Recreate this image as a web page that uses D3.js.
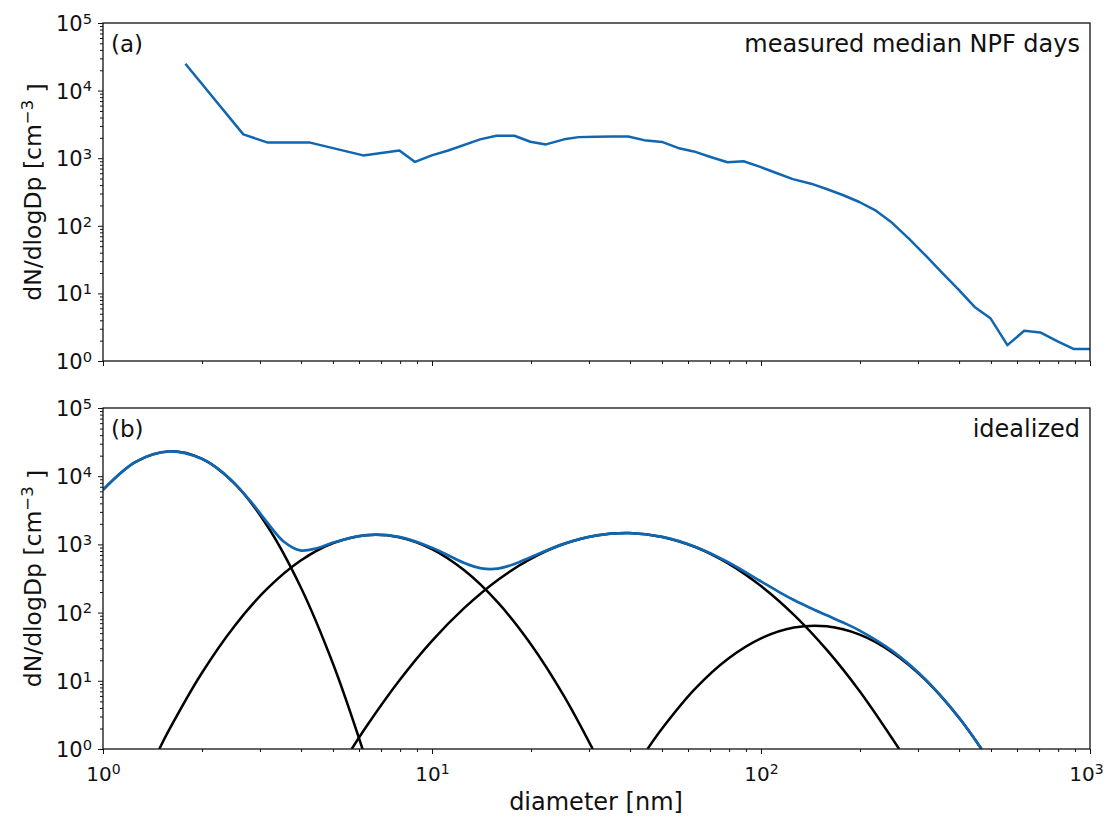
<!DOCTYPE html>
<html lang="en">
<head>
    <meta charset="UTF-8">
    <title>Particle size distribution</title>
    <script src="https://cdn.jsdelivr.net/npm/d3@7"></script>
    <style>
        body { margin: 0; background: #fff; }
        text { font-family: "DejaVu Sans", sans-serif; fill: #111; }
        .tick line { stroke: #111; stroke-width: 1; }
    </style>
</head>
<body>
    <svg width="1107" height="817"></svg>

    <script>
        // measured median NPF days (diameter in nm, dN/dlogDp in cm^-3)
        var measDiam = [1.78, 2.67, 3.17, 4.26, 6.18, 7.96, 8.88, 9.98, 11.2, 14.0, 15.7, 17.8, 19.9, 22.2,
            25.2, 27.9, 31.6, 35.3, 39.5, 44.1, 50.0, 55.9, 62.5, 69.9, 79.1, 88.5, 99, 110.8, 125, 142,
            159, 178, 199, 222, 248, 281, 319, 356, 398, 446, 498, 561, 631, 706, 800, 894, 1000];
        var measConc = [25000, 2250, 1700, 1700, 1100, 1300, 880, 1100, 1300, 1900, 2150, 2150, 1750, 1600,
            1900, 2050, 2080, 2100, 2100, 1850, 1740, 1420, 1260, 1050, 870, 900, 750, 610, 490, 420,
            347, 283, 225, 171, 115, 65, 35, 20, 11.5, 6.3, 4.3, 1.72, 2.8, 2.65, 1.93, 1.5, 1.5];

        // idealized modes
        var mode1Diam = [1, 1.259, 1.585, 1.995, 2.512, 3.162, 3.981, 5.012, 6.15];
        var mode1Conc = [6310, 16290, 23120, 18080, 7780, 1845, 241, 17.3, 1];

        var mode2Diam = [1.483, 1.585, 1.995, 2.512, 3.162, 3.981, 5.012, 6.310, 7.943, 10, 12.59, 15.85, 19.95, 25.12, 30.8];
        var mode2Conc = [1, 1.87, 12.9, 63.8, 226, 575, 1047, 1367, 1277, 855, 410, 141, 34.7, 6.12, 1];

        var mode3Diam = [5.70, 6.310, 7.943, 10, 12.59, 15.85, 19.95, 25.12, 31.62, 39.81, 50.12, 63.10, 79.43, 100, 125.9, 158.5, 199.5, 263];
        var mode3Conc = [1, 2.12, 10.0, 38.5, 119, 301, 613, 1012, 1354, 1466, 1287, 915, 527, 245, 92.8, 28.4, 7.03, 1];

        var mode4Diam = [45.2, 50.12, 63.10, 79.43, 100, 125.9, 158.5, 199.5, 251.2, 316.2, 398.1, 468];
        var mode4Conc = [1, 2.01, 7.65, 21.0, 41.8, 60.3, 62.9, 47.5, 25.9, 10.3, 2.94, 1];

        var totalDiam = [1, 1.259, 1.585, 1.995, 2.239, 2.512, 2.818, 3.162, 3.548, 3.981, 4.467, 5.012, 6.310,
            7.943, 10, 12.59, 14.13, 15.85, 17.78, 19.95, 25.12, 31.62, 39.81, 50.12, 63.10, 79.43, 100,
            112.2, 125.9, 141.3, 158.5, 177.8, 199.5, 251.2, 316.2, 398.1, 468];
        var totalConc = [6310, 16290, 23122, 18093, 12810, 7844, 4208, 2071, 1094, 816, 879, 1065, 1370,
            1287, 894, 529, 446, 442, 514, 648, 1018, 1355, 1466, 1289, 923, 548, 287,
            207, 153, 117, 91.3, 71.4, 54.5, 27.3, 10.5, 2.97, 1];

        var xMajor = [1, 10, 100, 1000];
        var yMajor = [1, 10, 100, 1000, 10000, 100000];

        var blue = "#1166b1";

        var svg = d3.select("svg");

        var x = d3.scaleLog().domain([1, 1000]).range([103, 1090]);

        function minorTicks(lo, hi) {
            var out = [];
            for (var p = lo; p < hi; p *= 10) {
                for (var k = 2; k <= 9; k++) out.push(p * k);
            }
            return out;
        }

        function supLabels(sel) {
            sel.selectAll(".tick text").text(null).each(function(d) {
                var t = d3.select(this);
                t.append("tspan").text("10");
                t.append("tspan").attr("dy", "-0.5em").attr("font-size", "0.7em")
                    .text(Math.round(Math.log10(d)));
            });
        }

        var panels = [
            { top: 23, bottom: 361, label: "(a)", title: "measured median NPF days", xLabels: false },
            { top: 408, bottom: 749, label: "(b)", title: "idealized", xLabels: true }
        ];

        panels.forEach(function(p, i) {
            var y = d3.scaleLog().domain([1, 100000]).range([p.bottom, p.top]);
            var g = svg.append("g");

            svg.append("clipPath").attr("id", "clip" + i)
                .append("rect")
                .attr("x", x.range()[0]).attr("y", p.top)
                .attr("width", x.range()[1] - x.range()[0])
                .attr("height", p.bottom - p.top);

            // y axis, major and minor ticks
            var yAx = g.append("g").attr("transform", "translate(" + x.range()[0] + ",0)")
                .call(d3.axisLeft(y).tickValues(yMajor).tickSize(5).tickPadding(6));
            yAx.select(".domain").remove();
            yAx.selectAll(".tick text").attr("font-size", 21).attr("dy", "0.36em");
            supLabels(yAx);
            var yMin = g.append("g").attr("transform", "translate(" + x.range()[0] + ",0)")
                .call(d3.axisLeft(y).tickValues(minorTicks(1, 100000)).tickSize(3).tickFormat(""));
            yMin.select(".domain").remove();

            // x axis
            var xAx = g.append("g").attr("transform", "translate(0," + p.bottom + ")")
                .call(d3.axisBottom(x).tickValues(xMajor).tickSize(5).tickPadding(8));
            xAx.select(".domain").remove();
            if (p.xLabels) {
                xAx.selectAll(".tick text").attr("font-size", 20).attr("dy", "0.95em");
                supLabels(xAx);
                // keep the last label inside the page
                xAx.selectAll(".tick text").filter(function(d) { return d === 1000; })
                    .attr("dx", -4);
            } else {
                xAx.selectAll(".tick text").remove();
            }
            var xMin = g.append("g").attr("transform", "translate(0," + p.bottom + ")")
                .call(d3.axisBottom(x).tickValues(minorTicks(1, 1000)).tickSize(3).tickFormat(""));
            xMin.select(".domain").remove();

            var line = d3.line()
                .x(function(d) { return x(d[0]); })
                .y(function(d) { return y(d[1]); });

            var plot = g.append("g").attr("clip-path", "url(#clip" + i + ")");

            if (i === 0) {
                plot.append("path")
                    .datum(d3.zip(measDiam, measConc))
                    .attr("fill", "none").attr("stroke", blue).attr("stroke-width", 2.5)
                    .attr("stroke-linejoin", "round")
                    .attr("d", line);
            } else {
                line.curve(d3.curveCatmullRom);
                [[mode1Diam, mode1Conc], [mode2Diam, mode2Conc], [mode3Diam, mode3Conc], [mode4Diam, mode4Conc]]
                    .forEach(function(m) {
                        plot.append("path")
                            .datum(d3.zip(m[0], m[1]))
                            .attr("fill", "none").attr("stroke", "#000").attr("stroke-width", 2.5)
                            .attr("d", line);
                    });
                plot.append("path")
                    .datum(d3.zip(totalDiam, totalConc))
                    .attr("fill", "none").attr("stroke", blue).attr("stroke-width", 2.7)
                    .attr("d", line);
            }

            // frame
            g.append("rect")
                .attr("x", x.range()[0]).attr("y", p.top)
                .attr("width", x.range()[1] - x.range()[0])
                .attr("height", p.bottom - p.top)
                .attr("fill", "none").attr("stroke", "#111").attr("stroke-width", 1.3);

            g.append("text").attr("x", 111).attr("y", p.top + 29)
                .attr("font-size", 23).text(p.label);
            g.append("text").attr("x", 1080).attr("y", p.top + 29)
                .attr("font-size", 24).attr("text-anchor", "end").text(p.title);

            // y label
            var yl = g.append("text")
                .attr("transform", "translate(41," + ((p.top + p.bottom) / 2) + ") rotate(-90)")
                .attr("text-anchor", "middle").attr("font-size", 23.5);
            yl.append("tspan").text("dN/dlogDp [cm");
            yl.append("tspan").attr("dy", "-0.5em").attr("font-size", "0.7em").text("\u22123");
            yl.append("tspan").attr("dy", "0.5em").text(" ]");
        });

        svg.append("text").attr("x", 596).attr("y", 810)
            .attr("text-anchor", "middle").attr("font-size", 24)
            .text("diameter [nm]");
    </script>
</body>
</html>
